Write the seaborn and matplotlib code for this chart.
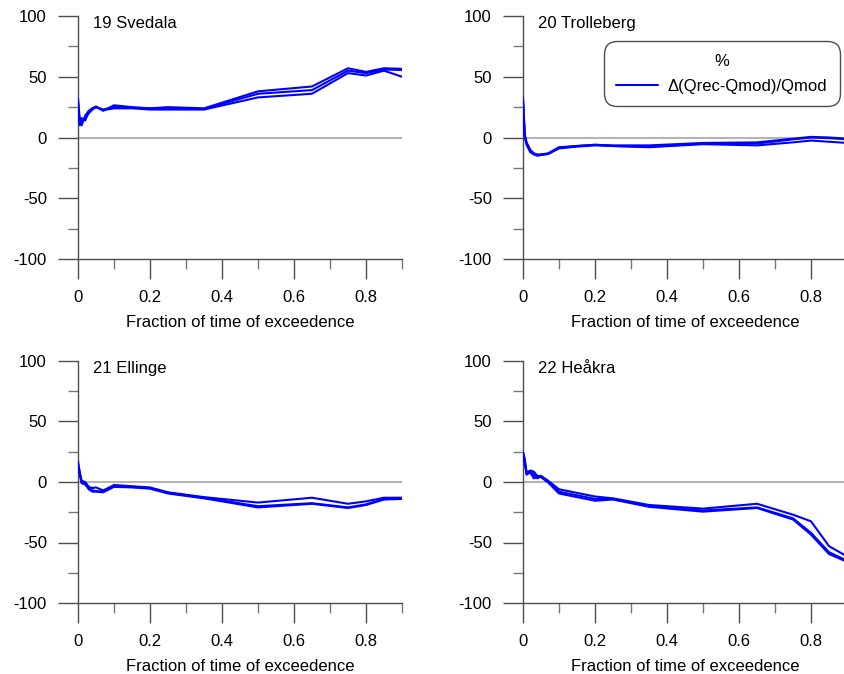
import numpy as np
import pandas as pd
import matplotlib
matplotlib.use("Agg")
import matplotlib.pyplot as plt
from matplotlib.ticker import MultipleLocator, FixedLocator
from matplotlib.lines import Line2D
import seaborn as sns

# ---- data ----
x_frac = [0, 0.005, 0.01, 0.02, 0.03, 0.04, 0.05, 0.07, 0.1, 0.15, 0.2, 0.25,
          0.35, 0.5, 0.65, 0.75, 0.8, 0.85, 0.9]

station_titles = ["19 Svedala", "20 Trolleberg", "21 Ellinge", "22 Heåkra"]

svedala_a = [32, 14, 10, 18, 22, 24, 25.5, 22, 26.5, 25, 24, 25, 24, 38, 42, 57, 54, 57, 56.5]
svedala_b = [30, 12, 14, 16, 20, 23, 25, 23, 25, 24.5, 24, 24, 23.5, 36, 39, 55, 53, 56, 55.5]
svedala_c = [28, 10, 16, 14, 21, 24, 25, 22.5, 24, 24, 23, 23, 23, 33, 36, 53, 51, 55, 50]

trolleberg_a = [33, 2, -4, -10, -13, -14, -14, -13, -8, -7, -6, -6.5, -6.5, -4.5, -4, -1, 0.5, 0, -1]
trolleberg_b = [30, 1, -5, -11, -13.5, -14.5, -14, -13.5, -8.5, -7, -6, -7, -7.5, -5, -5, -1.5, 0, -0.5, -1.5]
trolleberg_c = [28, 0, -6, -12, -14, -15, -14.5, -13.5, -9, -7.5, -6.5, -7, -8, -5.5, -6.5, -4, -2.5, -3.5, -4.5]

ellinge_a = [17, 8, 1, 0, -4, -5, -4.5, -7, -2.5, -3.5, -4.5, -8.5, -12.5, -17, -13, -18, -16, -13, -13]
ellinge_b = [15, 7, 0, -1, -5, -7, -7.5, -8, -3.5, -4, -5, -9, -13, -20, -17.5, -21, -18.5, -14, -13.5]
ellinge_c = [13, 6, -1, -2, -6, -8, -8, -8.5, -4, -4.5, -5.5, -9.5, -13.5, -21, -18, -21.5, -19, -14.5, -14]

heakra_a = [25, 19, 7, 9.5, 8.5, 5, 5, 1, -6, -9, -12, -13.5, -19, -22, -18, -27, -32.5, -53, -61.5]
heakra_b = [24, 17, 8, 9, 6, 3, 5, 0, -8, -11, -14, -14, -20, -23.5, -21, -30, -42, -58, -65]
heakra_c = [23, 15, 6, 8, 3, 4, 4, -0.5, -9.5, -12.5, -15.5, -14.5, -20.5, -24.5, -21.5, -31, -43.5, -59.5, -66]

station_series = [
    [svedala_a, svedala_b, svedala_c],
    [trolleberg_a, trolleberg_b, trolleberg_c],
    [ellinge_a, ellinge_b, ellinge_c],
    [heakra_a, heakra_b, heakra_c],
]

x_label = "Fraction of time of exceedence"
legend_title = "%"
legend_label = "Δ(Qrec-Qmod)/Qmod"

# ---- style ----
sns.set_style("ticks")
plt.rcParams["font.family"] = ["Liberation Sans", "DejaVu Sans"]
plt.rcParams["font.size"] = 12
plt.rcParams["axes.unicode_minus"] = False
plt.rcParams["text.color"] = "black"
plt.rcParams["axes.labelcolor"] = "black"

W, H = 844, 674
fig = plt.figure(figsize=(W / 100, H / 100), dpi=100)

def axrect(left, top, right, bottom):
    return [left / W, 1 - bottom / H, (right - left) / W, (bottom - top) / H]

rects = [
    axrect(78, 16, 402, 259),
    axrect(523, 16, 847, 259),
    axrect(78, 361, 402, 603),
    axrect(523, 361, 847, 603),
]

blue = "#0000ff"
spine_col = "#4d4d4d"

for i, (rect, title, series) in enumerate(zip(rects, station_titles, station_series)):
    ax = fig.add_axes(rect)
    rows = []
    for k, s in enumerate(series):
        for xv, yv in zip(x_frac, s):
            rows.append({"x": xv, "y": yv, "run": k})
    df = pd.DataFrame(rows)
    ax.axhline(0, color="#b4b4b4", lw=1.5, zorder=1)
    sns.lineplot(data=df, x="x", y="y", units="run", estimator=None,
                 color=blue, lw=1.5, ax=ax, zorder=3, legend=False)
    ax.set_xlim(0, 0.9)
    ax.set_ylim(-100, 100)
    ax.set_xlabel(x_label, fontsize=12, labelpad=7, color="black")
    ax.set_ylabel("")
    ax.xaxis.set_major_locator(FixedLocator([0, 0.2, 0.4, 0.6, 0.8]))
    ax.xaxis.set_minor_locator(FixedLocator([0.1, 0.3, 0.5, 0.7, 0.9]))
    ax.set_xticklabels(["0", "0.2", "0.4", "0.6", "0.8"])
    ax.yaxis.set_major_locator(MultipleLocator(50))
    ax.yaxis.set_minor_locator(FixedLocator([75, 25, -25, -75]))
    ax.tick_params(which="major", length=14.4, width=1, color=spine_col,
                   pad=8, labelsize=12, labelcolor="black")
    ax.tick_params(which="minor", length=7.2, width=1, color="#777777")
    for side in ["top", "right"]:
        ax.spines[side].set_visible(False)
    for side in ["left", "bottom"]:
        ax.spines[side].set_color(spine_col)
        ax.spines[side].set_linewidth(1)
    ax.patch.set_alpha(0)
    ax.text(0.045, 1.0, title, transform=ax.transAxes, ha="left", va="top",
            fontsize=12, color="black")

handle = Line2D([0], [0], color=blue, lw=1.5)
leg = fig.legend([handle], [legend_label], title=legend_title,
                 loc="upper right", bbox_to_anchor=(840 / W, 1 - 41 / H),
                 frameon=True, fancybox=True, fontsize=12, title_fontsize=12,
                 handlelength=2.5, borderpad=0.75, handletextpad=0.6,
                 labelspacing=0.6, borderaxespad=0, labelcolor="black")
leg.get_title().set_color("black")
frame = leg.get_frame()
frame.set_edgecolor(spine_col)
frame.set_linewidth(1)
frame.set_alpha(1)
frame.set_boxstyle("round,pad=0,rounding_size=0.8")

fig.savefig("out.png", dpi=100)
